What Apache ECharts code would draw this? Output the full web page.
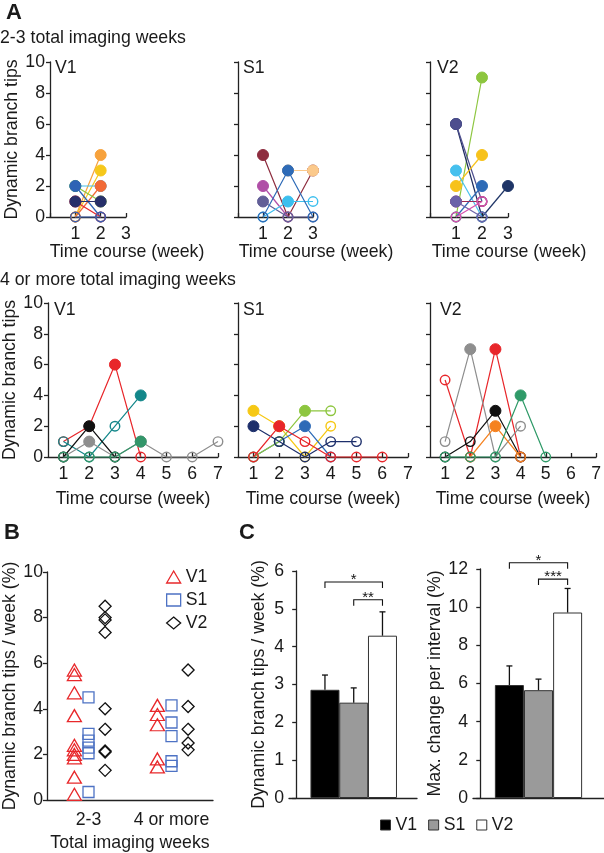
<!DOCTYPE html>
<html>
<head>
<meta charset="utf-8">
<script src="https://cdn.jsdelivr.net/npm/echarts@6/dist/echarts.min.js"></script>
<style>
html, body { margin: 0; padding: 0; background: #fff; }
#main { width: 604px; height: 853px; }
</style>
</head>
<body>
<div id="main"></div>
<script>
// ---- Panel A: dynamic branch tips per week, one row per cell (null = not imaged)
// gain rows: 1 = filled marker, 0 = open marker
const aTopV1 = [[0, 4], [0, 3], [2, 2], [0, 2], [2, 1], [2, 0], [1, 0], [1, 1], [0, 0]];
const aTopV1Gain = [[0, 1], [0, 1], [1, 1], [0, 1], [1, 1], [1, 0], [1, 0], [1, 1], [0, 0]];
const aTopS1 = [[4, 0, 3], [null, 3, 3], [2, 0, null], [1, 0, 0], [0, 1, 1], [0, 3, 0]];
const aTopS1Gain = [[1, 0, 1], [0, 1, 1], [1, 0, 0], [1, 0, 0], [0, 1, 0], [0, 1, 0]];
const aTopV2 = [[0, 9], [6, 0], [6, 1], [null, 0, 2], [2, 4], [3, 0], [0, 2], [1, 1], [1, 0], [0, 1]];
const aTopV2Gain = [[0, 1], [1, 0], [1, 0], [0, 0, 1], [1, 1], [1, 0], [0, 1], [1, 0], [1, 0], [0, 0]];
const aBotV1 = [[1, 2, 6, 0], [1, 0, 2, 4], [0, 1, 0, 1, 0, 0, 1], [0, 2, 0], [0, 0, 0, 1]];
const aBotV1Gain = [[0, 0, 1, 0], [0, 0, 0, 1], [0, 1, 0, 1, 0, 0, 0], [0, 1, 0], [0, 0, 0, 1]];
const aBotS1 = [[3, 2, 0, 2], [0, 1, 2, 0], [0, 1, 3, 3], [2, 1, 0, 1, 1], [0, 2, 1, 0, 0, 0]];
const aBotS1Gain = [[1, 1, 0, 0], [0, 0, 1, 0], [0, 0, 1, 0], [1, 0, 0, 0, 0], [0, 1, 0, 0, 0, 0]];
const aBotV2 = [[5, 0, 7, 0], [1, 7, 0, 2], [0, 1, 3, 0], [null, 0, 2, 0], [0, 0, 0, 4, 0]];
const aBotV2Gain = [[0, 0, 1, 0], [0, 1, 0, 0], [0, 0, 1, 0], [0, 0, 1, 0], [0, 0, 0, 1, 0]];
const aWeeksLong = [1, 2, 3, 4, 5, 6, 7];

// ---- Panel B: dynamic tips / week (%) per cell, by total imaging weeks
const bGroups = ['2-3', '4 or more'];
const bV1 = [[5.7, 5.5, 4.7, 3.7, 2.4, 2.2, 2.0, 1.85, 1.0, 0.25], [4.15, 3.75, 3.3, 1.8, 1.45]];
const bS1 = [[4.5, 2.9, 2.6, 2.3, 2.05, 0.35], [4.15, 3.4, 2.8, 1.7, 1.5]];
const bV2 = [[8.5, 8.0, 7.9, 7.35, 4.0, 3.1, 2.15, 2.1, 1.3], [5.7, 4.1, 3.1, 2.5, 2.2]];

// ---- Panel C: means and SEM
const cRegions = ['V1', 'S1', 'V2'];
const cTipsMean = [2.86, 2.52, 4.29];
const cTipsErr = [0.39, 0.39, 0.63];
const cMaxMean = [5.92, 5.65, 9.72];
const cMaxErr = [1.0, 0.58, 1.26];
const cTipsSig = [[1, 3, 5.71], [2, 3, 5.24]];
const cTipsSigText = ['*', '**'];
const cMaxSig = [[1, 3, 12.33], [2, 3, 11.47]];
const cMaxSigText = ['*', '***'];

const FONT = 'Liberation Sans, Arial, sans-serif';
const FS = 17.7;
const INK = '#1a1a1a';
const axisLineStyle = { color: '#222', width: 1.3 };

const colTopV1 = ['#f7a23c', '#f6c81b', '#45c0ee', '#f26a36', '#8dc63f', '#2d63b5', '#e8262a', '#27306b', '#3a5fb0'];
const colTopS1 = ['#8e2d3f', '#fbc98b', '#b04fa7', '#625f98', '#3cbfee', '#2e6bb7'];
const colTopV2 = ['#8dc63f', '#1c2b5e', '#4d4e8e', '#1f3567', '#f7c21b', '#45c0ee', '#2e6bb7', '#9b2d56', '#6b62a8', '#d651ae'];
const colBotV1 = ['#e8262a', '#13878a', '#8e8e8e', '#111111', '#33966a'];
const colBotS1 = ['#f6c814', '#2e6bb7', '#8dc63f', '#1d2f6b', '#e8262a'];
const colBotV2 = ['#e8262a', '#8e8e8e', '#111111', '#f58220', '#2f9a68'];

function cellSeries(vals, gains, colors, idx) {
  return vals.map((row, i) => {
    const c = colors[i];
    const data = [];
    row.forEach((v, w) => {
      if (v === null) return;
      const filled = gains[i][w] === 1;
      data.push({
        value: [w + 1, v],
        symbolSize: filled ? 11 : 9.5,
        itemStyle: filled
          ? { color: c, borderColor: c, borderWidth: 1 }
          : { color: 'rgba(255,255,255,0)', borderColor: c, borderWidth: 1.4 }
      });
    });
    return {
      type: 'line', xAxisIndex: idx, yAxisIndex: idx, data,
      symbol: 'circle', clip: false, silent: true,
      lineStyle: { color: c, width: 1.2 }, itemStyle: { color: c }, z: 3 + i
    };
  });
}

const aGrids = [
  { left: 50, top: 62, width: 76, height: 155 },
  { left: 238, top: 62, width: 75, height: 155 },
  { left: 430, top: 62, width: 78, height: 155 },
  { left: 48, top: 303, width: 170, height: 154 },
  { left: 238, top: 303, width: 170, height: 154 },
  { left: 430, top: 303, width: 170, height: 154 }
];

const labelStyle = { fontSize: FS, color: INK, fontFamily: FONT };
const xAxes = [];
const yAxes = [];
aGrids.forEach((g, i) => {
  const top = i < 3;
  xAxes.push({
    gridIndex: i, type: 'value',
    min: top ? 0 : 0.4, max: top ? 3 : 7,
    interval: top ? 1 : undefined,
    axisLine: { lineStyle: axisLineStyle },
    axisTick: top
      ? { inside: true, length: 4, lineStyle: axisLineStyle }
      : { inside: true, length: 4, lineStyle: axisLineStyle, customValues: aWeeksLong },
    axisLabel: top
      ? Object.assign({ margin: 8, formatter: (v) => (v === 0 ? '' : v) }, labelStyle)
      : Object.assign({ margin: 8, customValues: aWeeksLong }, labelStyle),
    splitLine: { show: false },
    name: top ? '' : 'Time course (week)',
    nameLocation: 'middle', nameGap: 33,
    nameTextStyle: labelStyle
  });
  yAxes.push({
    gridIndex: i, type: 'value', min: 0, max: 10, interval: 2,
    axisLine: { show: true, lineStyle: axisLineStyle },
    axisTick: { show: true, length: 4, lineStyle: axisLineStyle },
    axisLabel: Object.assign({ show: i % 3 === 0, margin: 5 }, labelStyle),
    splitLine: { show: false },
    name: i % 3 === 0 ? 'Dynamic branch tips' : '',
    nameLocation: 'middle', nameGap: 29,
    nameTextStyle: labelStyle
  });
});

// panel B: visible category axis (6) + hidden value axis (7) for jittered points
xAxes.push({
  gridIndex: 6, type: 'category', data: bGroups,
  axisLine: { lineStyle: axisLineStyle },
  axisTick: { alignWithLabel: true, length: 4, lineStyle: axisLineStyle },
  axisLabel: Object.assign({ margin: 11, interval: 0 }, labelStyle),
  name: 'Total imaging weeks', nameLocation: 'middle', nameGap: 34,
  nameTextStyle: labelStyle
});
xAxes.push({ gridIndex: 6, type: 'value', min: 0, max: 2, show: false });
yAxes.push({
  gridIndex: 6, type: 'value', min: 0, max: 10, interval: 2,
  axisLine: { show: true, lineStyle: axisLineStyle },
  axisTick: { show: true, length: 4, lineStyle: axisLineStyle },
  axisLabel: Object.assign({ margin: 4 }, labelStyle),
  splitLine: { show: false },
  name: 'Dynamic branch tips / week (%)', nameLocation: 'middle', nameGap: 26,
  nameTextStyle: labelStyle
});

// panel C: two bar charts (axes 8, 9)
[[7, -0.25, 4.2], [8, -0.25, 4.25]].forEach(([g, mn, mx]) => {
  xAxes.push({
    gridIndex: g, type: 'value', min: mn, max: mx,
    axisLine: { lineStyle: axisLineStyle }, axisTick: { show: false },
    axisLabel: { show: false }, splitLine: { show: false }
  });
});
yAxes.push({
  gridIndex: 7, type: 'value', min: 0, max: 6, interval: 1,
  axisLine: { show: true, lineStyle: axisLineStyle },
  axisTick: { show: true, length: 4, lineStyle: axisLineStyle },
  axisLabel: Object.assign({ margin: 5 }, labelStyle),
  splitLine: { show: false },
  name: 'Dynamic branch tips / week (%)', nameLocation: 'middle', nameGap: 21,
  nameTextStyle: labelStyle
});
yAxes.push({
  gridIndex: 8, type: 'value', min: 0, max: 12, interval: 2,
  axisLine: { show: true, lineStyle: axisLineStyle },
  axisTick: { show: true, length: 4, lineStyle: axisLineStyle },
  axisLabel: Object.assign({ margin: 5 }, labelStyle),
  splitLine: { show: false },
  name: 'Max. change per interval (%)', nameLocation: 'middle', nameGap: 28,
  nameTextStyle: labelStyle
});

const series = [].concat(
  cellSeries(aTopV1, aTopV1Gain, colTopV1, 0),
  cellSeries(aTopS1, aTopS1Gain, colTopS1, 1),
  cellSeries(aTopV2, aTopV2Gain, colTopV2, 2),
  cellSeries(aBotV1, aBotV1Gain, colBotV1, 3),
  cellSeries(aBotS1, aBotS1Gain, colBotS1, 4),
  cellSeries(aBotV2, aBotV2Gain, colBotV2, 5)
);

// panel B scatter
const bStyle = [
  { name: 'V1', vals: bV1, symbol: 'triangle', size: [14, 12], color: '#e8282b', shift: -0.17 },
  { name: 'S1', vals: bS1, symbol: 'rect', size: 11, color: '#4d72c4', shift: 0 },
  { name: 'V2', vals: bV2, symbol: 'diamond', size: 12, color: '#111111', shift: 0.2 }
];
bStyle.forEach((s) => {
  const data = [];
  s.vals.forEach((grp, g) => grp.forEach((v) => data.push([g + 0.5 + s.shift, v])));
  series.push({
    type: 'scatter', name: s.name, xAxisIndex: 7, yAxisIndex: 6, data,
    symbol: s.symbol, symbolSize: s.size, silent: true,
    itemStyle: { color: 'rgba(255,255,255,0)', borderColor: s.color, borderWidth: 1.3, opacity: 1 }
  });
});

// panel C bars, error bars, significance brackets
const barColors = ['#000000', '#9a9a9a', '#ffffff'];
function errRender(params, api) {
  const x = api.value(0), m = api.value(1), e = api.value(2);
  const p0 = api.coord([x, m]);
  const p1 = api.coord([x, m + e]);
  const st = { stroke: '#111', lineWidth: 1.3 };
  return {
    type: 'group', children: [
      { type: 'line', shape: { x1: p0[0], y1: p0[1], x2: p1[0], y2: p1[1] }, style: st },
      { type: 'line', shape: { x1: p1[0] - 3, y1: p1[1], x2: p1[0] + 3, y2: p1[1] }, style: st }
    ]
  };
}
function sigRenderer(texts) {
  return function (params, api) {
    const a = api.coord([api.value(0), api.value(2)]);
    const b = api.coord([api.value(1), api.value(2)]);
    const st = { stroke: '#111', lineWidth: 1.1, fill: null };
    return {
      type: 'group', children: [
        { type: 'polyline', shape: { points: [[a[0], a[1] + 6], a, b, [b[0], b[1] + 6]] }, style: st },
        { type: 'text', style: { text: texts[params.dataIndex], x: (a[0] + b[0]) / 2, y: a[1] - 2,
          align: 'center', verticalAlign: 'middle', font: '15px ' + FONT, fill: '#111' } }
      ]
    };
  };
}
[[8, 7, cTipsMean, cTipsErr, cTipsSig, cTipsSigText], [9, 8, cMaxMean, cMaxErr, cMaxSig, cMaxSigText]]
  .forEach(([xi, yi, means, errs, sig, sigText]) => {
    cRegions.forEach((r, i) => {
      series.push({
        type: 'bar', name: r, xAxisIndex: xi, yAxisIndex: yi,
        data: [[i + 1, means[i]]], barWidth: 29, barGap: '-100%', silent: true,
        itemStyle: { color: barColors[i], borderColor: '#333', borderWidth: 1 }
      });
    });
    series.push({
      type: 'custom', xAxisIndex: xi, yAxisIndex: yi, silent: true, z: 5,
      data: cRegions.map((r, i) => [i + 1, means[i], errs[i]]),
      renderItem: errRender
    });
    series.push({
      type: 'custom', xAxisIndex: xi, yAxisIndex: yi, silent: true, z: 5, clip: false,
      data: sig, renderItem: sigRenderer(sigText)
    });
  });

function txt(text, x, y, size, opts) {
  return {
    type: 'text', silent: true,
    style: Object.assign({ text, x, y, font: size + 'px ' + FONT, fill: INK, align: 'left', verticalAlign: 'middle' }, opts || {})
  };
}

const option = {
  animation: false,
  backgroundColor: '#fff',
  textStyle: { fontFamily: FONT },
  grid: aGrids.concat([
    { left: 47, top: 572, width: 166, height: 228 },
    { left: 289, top: 571, width: 128, height: 227 },
    { left: 473, top: 569, width: 131, height: 229 }
  ]),
  xAxis: xAxes,
  yAxis: yAxes,
  legend: [
    {
      orient: 'vertical', left: 166, top: 568, padding: 0, itemGap: 5,
      itemWidth: 14, itemHeight: 12, selectedMode: false,
      textStyle: labelStyle,
      data: [
        { name: 'V1', icon: 'triangle', itemStyle: { color: 'rgba(255,255,255,0)', borderColor: '#e8282b', borderWidth: 1.3 } },
        { name: 'S1', icon: 'rect', itemStyle: { color: 'rgba(255,255,255,0)', borderColor: '#4d72c4', borderWidth: 1.3 } },
        { name: 'V2', icon: 'diamond', itemStyle: { color: 'rgba(255,255,255,0)', borderColor: '#111', borderWidth: 1.3 } }
      ]
    },
    {
      orient: 'horizontal', left: 380, top: 816, padding: 0, itemGap: 11,
      itemWidth: 10, itemHeight: 10, selectedMode: false,
      textStyle: labelStyle,
      data: cRegions.map((r, i) => ({
        name: r, icon: 'rect', itemStyle: { color: barColors[i], borderColor: '#333', borderWidth: 1 }
      }))
    }
  ],
  graphic: [
    txt('A', 6, 13, 22, { font: 'bold 22px ' + FONT }),
    txt('2-3 total imaging weeks', 0, 38, FS),
    txt('V1', 55, 68, FS), txt('S1', 243, 68, FS), txt('V2', 437, 68, FS),
    txt('Time course (week)', 127, 252, FS, { align: 'center' }),
    txt('Time course (week)', 316, 252, FS, { align: 'center' }),
    txt('Time course (week)', 509, 252, FS, { align: 'center' }),
    txt('4 or more total imaging weeks', 0, 280, FS),
    txt('V1', 54, 310, FS), txt('S1', 243, 310, FS), txt('V2', 440, 310, FS),
    txt('B', 4, 533, 22, { font: 'bold 22px ' + FONT }),
    txt('C', 239, 533, 22, { font: 'bold 22px ' + FONT })
  ],
  series
};

const chart = echarts.init(document.getElementById('main'), null, { renderer: 'canvas' });
chart.setOption(option);
</script>
</body>
</html>
